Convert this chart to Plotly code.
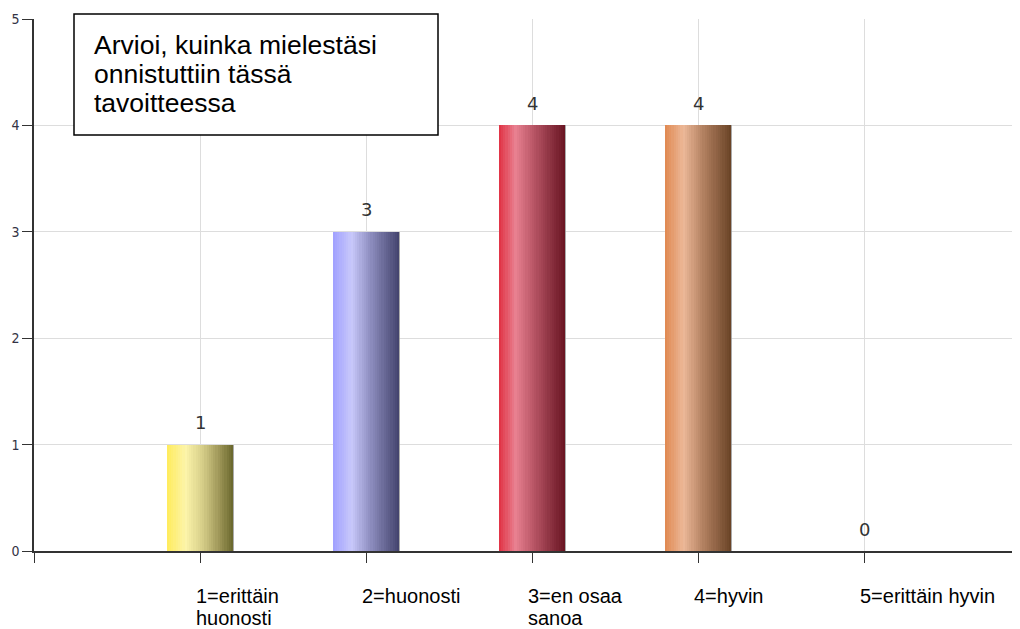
import plotly.graph_objects as go

categories = ["1=erittäin<br>huonosti", "2=huonosti", "3=en osaa<br>sanoa", "4=hyvin", "5=erittäin hyvin"]
values = [1, 3, 4, 4, 0]
title_text = "Arvioi, kuinka mielestäsi<br>onnistuttiin tässä<br>tavoitteessa"
y_ticks = [0, 1, 2, 3, 4, 5]

# gradient stops (position, rgb) per category
gradients = [
    [(0.0, (255, 236, 90)), (0.28, (252, 244, 170)), (0.55, (212, 204, 135)), (0.78, (160, 152, 90)), (1.0, (104, 102, 44))],
    [(0.0, (160, 160, 255)), (0.28, (200, 200, 250)), (0.55, (145, 145, 195)), (0.78, (105, 105, 150)), (1.0, (66, 66, 108))],
    [(0.0, (224, 48, 66)), (0.25, (232, 128, 144)), (0.55, (180, 82, 98)), (0.78, (140, 50, 65)), (1.0, (104, 20, 32))],
    [(0.0, (224, 136, 80)), (0.28, (236, 184, 152)), (0.58, (178, 128, 96)), (0.8, (140, 96, 66)), (1.0, (104, 66, 36))],
    [(0.0, (200, 200, 200)), (1.0, (120, 120, 120))],
]


def interp(stops, t):
    for (p0, c0), (p1, c1) in zip(stops[:-1], stops[1:]):
        if p0 <= t <= p1:
            f = (t - p0) / (p1 - p0) if p1 > p0 else 0
            c = [round(a + (b - a) * f) for a, b in zip(c0, c1)]
            return "rgb(%d,%d,%d)" % tuple(c)
    c = stops[-1][1]
    return "rgb(%d,%d,%d)" % tuple(c)


# page is offset by the 8px body margin
OFF = 8
W, H = 1020 - OFF, 629 - OFF
ML, MT, MB = 26, 11, 78
PW = W - ML
PH = H - MT - MB


def px_x(page_x):
    return (page_x - OFF - ML) / PW


def px_y(page_y):
    return 1 - (page_y - OFF - MT) / PH


xpos = [i + 1 for i in range(len(categories))]
bar_width = 0.40
n_slices = 30
step = bar_width / n_slices

fig = go.Figure()
for s in range(n_slices):
    t = (s + 0.5) / n_slices
    w = step * 1.35 if s < n_slices - 1 else step
    fig.add_trace(go.Bar(
        x=xpos, y=values,
        offset=-bar_width / 2 + s * step,
        width=w,
        marker=dict(color=[interp(g, t) for g in gradients], line=dict(width=0)),
        showlegend=False, hoverinfo="skip",
    ))
# thin grey edge on right side of bars
fig.add_trace(go.Bar(
    x=xpos, y=values, offset=bar_width / 2 - 0.004, width=0.008,
    marker=dict(color="rgba(150,150,150,0.8)", line=dict(width=0)),
    showlegend=False, hoverinfo="skip",
))

annotations = []
for x, v in zip(xpos, values):
    annotations.append(dict(
        x=x, y=v, xref="x", yref="y", text=str(v), showarrow=False,
        yanchor="middle", yshift=22, font=dict(family="DejaVu Sans", size=18, color="#333333"),
    ))
for x, c in zip(xpos, categories):
    for k, line in enumerate(c.split("<br>")):
        annotations.append(dict(
            x=x, y=0, xref="x", yref="y", text=line, showarrow=False,
            xanchor="left", yanchor="middle", align="left", xshift=-6, yshift=-45 - 22 * k,
            font=dict(family="Liberation Sans, Arial", size=20, color="#000000"),
        ))
title_centers = [45, 74, 103]
for k, line in enumerate(title_text.split("<br>")):
    annotations.append(dict(
        x=px_x(92), y=px_y(title_centers[k]), xref="paper", yref="paper", text=line, showarrow=False,
        xanchor="left", yanchor="middle", align="left",
        font=dict(family="Liberation Sans, Arial", size=26.5, color="#000000"),
    ))

fig.add_shape(type="rect", xref="paper", yref="paper",
              x0=px_x(74), x1=px_x(438), y0=px_y(135), y1=px_y(14),
              line=dict(color="#000000", width=1.5), fillcolor="white", layer="above")

fig.update_layout(
    width=W, height=H,
    margin=dict(l=ML, r=0, t=MT, b=MB),
    paper_bgcolor="white", plot_bgcolor="white",
    barmode="overlay", bargap=0,
    annotations=annotations,
    xaxis=dict(
        range=[0, PW / 166.0], tickvals=[0] + xpos, ticktext=[""] * (len(xpos) + 1),
        ticks="outside", ticklen=10, tickcolor="#333333", tickwidth=1,
        showline=True, linecolor="#333333", linewidth=1.5,
        showgrid=True, gridcolor="#dddddd", gridwidth=1, zeroline=False,
        fixedrange=True,
    ),
    yaxis=dict(
        range=[0, 5], tickvals=y_ticks,
        ticks="outside", ticklen=10, tickcolor="#333333", tickwidth=1,
        showline=True, linecolor="#333333", linewidth=1.5,
        showgrid=True, gridcolor="#dddddd", gridwidth=1, zeroline=False,
        tickfont=dict(family="Liberation Sans Narrow, DejaVu Sans Condensed, Arial Narrow", size=14, color="#333344"),
        fixedrange=True,
    ),
)

fig.write_html("out.html")
